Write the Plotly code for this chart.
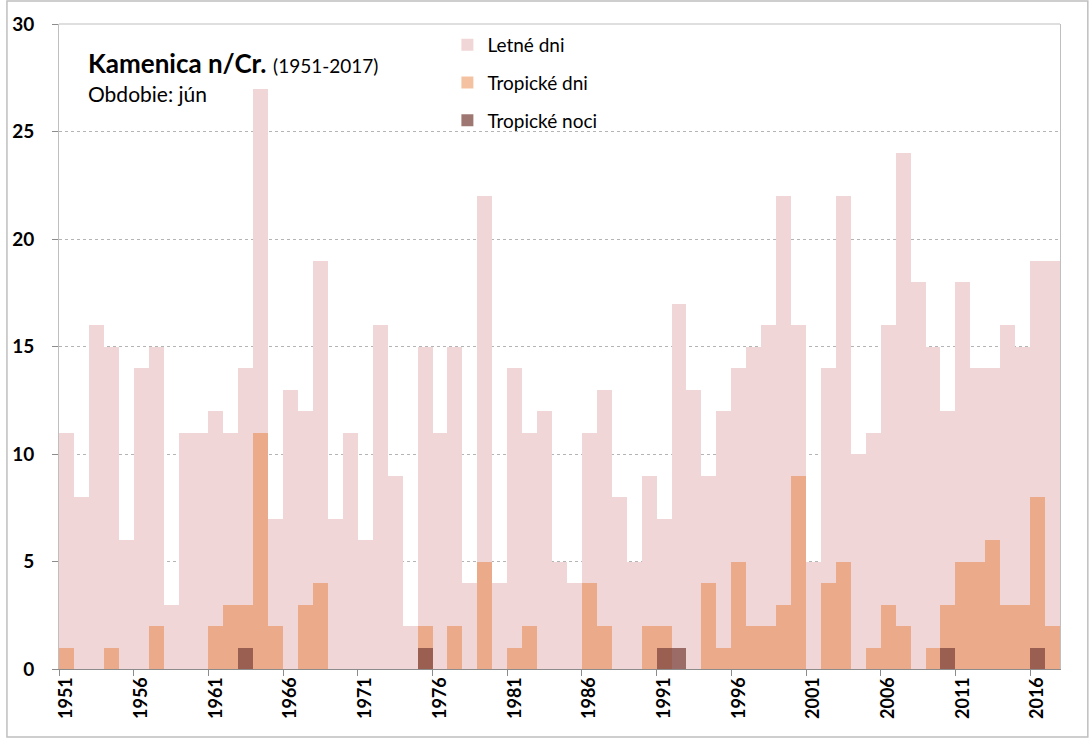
import plotly.graph_objects as go

# roky 1951-2017
roky = list(range(1951, 2018))

# počet letných dní (jún)
letne_dni = [11, 8, 16, 15, 6, 14, 15, 3, 11, 11,
             12, 11, 14, 27, 7, 13, 12, 19, 7, 11,
             6, 16, 9, 2, 15, 11, 15, 4, 22, 4,
             14, 11, 12, 5, 4, 11, 13, 8, 5, 9,
             7, 17, 13, 9, 12, 14, 15, 16, 22, 16,
             5, 14, 22, 10, 11, 16, 24, 18, 15, 12,
             18, 14, 14, 16, 15, 19, 19]

# počet tropických dní
tropicke_dni = [1, 0, 0, 1, 0, 0, 2, 0, 0, 0,
                2, 3, 3, 11, 2, 0, 3, 4, 0, 0,
                0, 0, 0, 0, 2, 0, 2, 0, 5, 0,
                1, 2, 0, 0, 0, 4, 2, 0, 0, 2,
                2, 0, 0, 4, 1, 5, 2, 2, 3, 9,
                0, 4, 5, 0, 1, 3, 2, 0, 1, 3,
                5, 5, 6, 3, 3, 8, 2]

# počet tropických nocí
tropicke_noci = [0, 0, 0, 0, 0, 0, 0, 0, 0, 0,
                 0, 0, 1, 0, 0, 0, 0, 0, 0, 0,
                 0, 0, 0, 0, 1, 0, 0, 0, 0, 0,
                 0, 0, 0, 0, 0, 0, 0, 0, 0, 0,
                 1, 1, 0, 0, 0, 0, 0, 0, 0, 0,
                 0, 0, 0, 0, 0, 0, 0, 0, 0, 1,
                 0, 0, 0, 0, 0, 1, 0]

popisky_x = [str(r) for r in range(1951, 2018, 5)]
popisky_y = [0, 5, 10, 15, 20, 25, 30]

font = "Lato, 'Open Sans', sans-serif"

fig = go.Figure()
fig.add_trace(go.Bar(x=roky, y=letne_dni, name="Letné dni",
                     marker=dict(color="rgb(240,214,214)", line=dict(width=0)),
                     legendgroup="a"))
fig.add_trace(go.Bar(x=roky, y=tropicke_dni, name="Tropické dni",
                     marker=dict(color="rgba(228,110,30,0.42)", line=dict(width=0)),
                     legendgroup="b"))
fig.add_trace(go.Bar(x=roky, y=tropicke_noci, name="Tropické noci",
                     marker=dict(color="rgba(122,66,60,0.72)", line=dict(width=0)),
                     legendgroup="c"))

# nadpis v grafe
fig.add_annotation(x=0.027, y=0.94, xref="paper", yref="paper", xanchor="left", yanchor="middle",
                   text="<b>Kamenica n/Cr.</b> <span style='font-size:19px'>(1951-2017)</span>",
                   showarrow=False, font=dict(family=font, size=26, color="black"))
fig.add_annotation(x=0.027, y=0.892, xref="paper", yref="paper", xanchor="left", yanchor="middle",
                   text="Obdobie: jún", showarrow=False,
                   font=dict(family=font, size=21, color="black"))

# rámik okolo celého grafu
fig.add_shape(type="rect", xref="paper", yref="paper",
              x0=-0.052, x1=1.0278, y0=-0.1054, y1=1.0357,
              line=dict(color="#BFBFBF", width=1.5))

fig.update_layout(
    width=1090, height=739,
    barmode="overlay", bargap=0,
    plot_bgcolor="white", paper_bgcolor="white",
    margin=dict(l=54, r=30, t=24, b=70),
    font=dict(family=font, color="black"),
    legend=dict(x=0.388, y=0.997, xanchor="left", yanchor="top",
                bgcolor="rgba(0,0,0,0)", font=dict(size=19),
                tracegroupgap=10, itemwidth=30),
    showlegend=True,
)
fig.update_xaxes(
    range=[1950.5, 2017.5], tickmode="array", tickvals=[int(t) for t in popisky_x],
    ticktext=popisky_x, tickangle=-90, ticks="",
    tickfont=dict(size=18, family=font, weight="bold"),
    showline=True, linecolor="#8C8C8C", linewidth=1, mirror=False,
    showgrid=False, zeroline=False,
    minor=dict(tickmode="array", tickvals=[r - 0.5 for r in range(1951, 2018, 5)],
               ticks="outside", ticklen=6, tickcolor="#8C8C8C", showgrid=False),
)
fig.update_yaxes(
    range=[0, 30], tickmode="array", tickvals=popisky_y,
    ticks="outside", ticklen=6, tickcolor="#8C8C8C",
    tickfont=dict(size=19, family=font, weight="bold"),
    showline=True, linecolor="#BFBFBF", linewidth=1, mirror=True,
    showgrid=True, gridcolor="#B4B4B4", griddash="dot", gridwidth=1,
    zeroline=False, ticklabelstandoff=14,
)
# horná hrana plochy grafu
fig.add_shape(type="line", xref="paper", yref="paper", x0=0, x1=1, y0=1, y1=1,
              line=dict(color="#BFBFBF", width=1))

fig.write_html("out.html", config={"displayModeBar": False},
               post_script="document.body.style.margin='0';")
